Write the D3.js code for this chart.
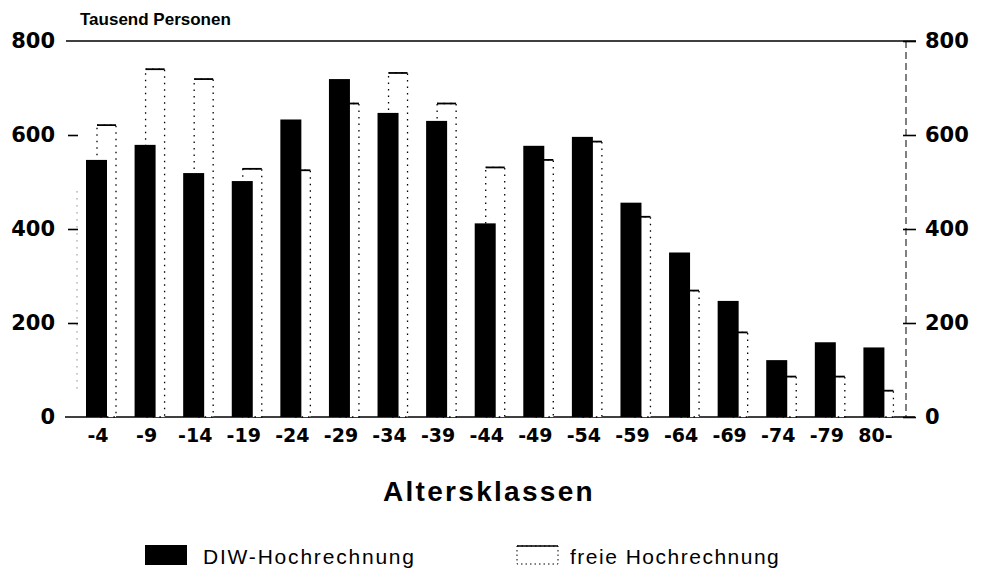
<!DOCTYPE html>
<html>
<head>
<meta charset="utf-8">
<script src="https://cdn.jsdelivr.net/npm/d3@7"></script>
<style>
  body { margin: 0; background: #fff; }
  text { font-family: "Liberation Sans", Arial, sans-serif; fill: #000; }
  .tick text { font-family: "DejaVu Sans", sans-serif; font-weight: bold; }
</style>
</head>
<body>
<svg width="987" height="579"></svg>
<script>
// Altersklassen
var classes = ["-4","-9","-14","-19","-24","-29","-34","-39","-44","-49","-54","-59","-64","-69","-74","-79","80-"];
// Tausend Personen
var diw  = [547, 579, 519, 502, 633, 719, 647, 630, 412, 577, 596, 456, 350, 247, 121, 159, 148];
var frei = [621, 740, 719, 528, 525, 667, 732, 667, 531, 547, 586, 426, 269, 180,  86,  86,  56];
var yTicks = [0, 200, 400, 600, 800];

var svg = d3.select("svg");

var x = d3.scaleBand().domain(classes).range([70, 896]).padding(0);
var y = d3.scaleLinear().domain([0, 800]).range([417, 41]);

var barW = 21;

// top frame line and baseline
svg.append("line").attr("x1", 66).attr("x2", 916).attr("y1", y(800)).attr("y2", y(800))
  .attr("stroke", "#000").attr("stroke-width", 1.5);
svg.append("line").attr("x1", 65).attr("x2", 915).attr("y1", y(0)).attr("y2", y(0))
  .attr("stroke", "#000").attr("stroke-width", 1.5);

// right axis line (broken in the print)
svg.append("line").attr("x1", 906).attr("x2", 906).attr("y1", y(800)).attr("y2", y(0))
  .attr("stroke", "#000").attr("stroke-width", 1).attr("stroke-dasharray", "7,4");
// faint left guide
svg.append("line").attr("x1", 77).attr("x2", 77).attr("y1", y(480)).attr("y2", y(60))
  .attr("stroke", "#555").attr("stroke-width", 1).attr("stroke-dasharray", "1,6");

// freie Hochrechnung (dotted outline, behind)
var g2 = svg.append("g");
classes.forEach(function(c, i) {
  var x0 = x(c) + 27, top = y(frei[i]);
  g2.append("rect").attr("x", x0).attr("y", top).attr("width", barW - 2).attr("height", y(0) - top)
    .attr("fill", "#fff").attr("stroke", "#000").attr("stroke-width", 1.3)
    .attr("stroke-dasharray", "1.5,5");
  g2.append("line").attr("x1", x0).attr("x2", x0 + barW - 2).attr("y1", top).attr("y2", top)
    .attr("stroke", "#000").attr("stroke-width", 1.8);
});

// DIW-Hochrechnung (solid black)
svg.append("g").selectAll("rect").data(diw).enter().append("rect")
  .attr("x", function(d, i) { return x(classes[i]) + 16; })
  .attr("y", function(d) { return y(d); })
  .attr("width", barW)
  .attr("height", function(d) { return y(0) - y(d); })
  .attr("fill", "#000");

// left axis
var left = svg.append("g").attr("transform", "translate(78,0)")
  .call(d3.axisLeft(y).tickValues(yTicks).tickSize(10).tickPadding(12));
left.select(".domain").remove();
left.selectAll(".tick line").attr("stroke-width", 1.6);
left.selectAll(".tick").filter(function(d) { return d === 0 || d === 800; }).select("line").remove();
left.selectAll(".tick text").style("font-size", "21px").attr("x", -23);

// right axis
var right = svg.append("g").attr("transform", "translate(903,0)")
  .call(d3.axisRight(y).tickValues(yTicks).tickSize(13).tickPadding(9));
right.select(".domain").remove();
right.selectAll(".tick line").attr("stroke-width", 1.6);
right.selectAll(".tick text").style("font-size", "21px");

// x axis labels
var bottom = svg.append("g").attr("transform", "translate(0," + y(0) + ")")
  .call(d3.axisBottom(x).tickSize(0).tickPadding(12));
bottom.select(".domain").remove();
bottom.selectAll(".tick").attr("transform", function(d) {
  return "translate(" + (x(d) + 28) + ",0)";
});
bottom.selectAll(".tick text").style("font-size", "19px");

// titles
svg.append("text").attr("x", 80).attr("y", 25).style("font-size", "17px")
  .style("font-weight", "bold").text("Tausend Personen");
svg.append("text").attr("x", 489).attr("y", 501).attr("text-anchor", "middle")
  .style("font-size", "28px").style("font-weight", "bold").style("letter-spacing", "2.3px")
  .text("Altersklassen");

// legend
svg.append("rect").attr("x", 145).attr("y", 545).attr("width", 42).attr("height", 20).attr("fill", "#000");
svg.append("text").attr("x", 203).attr("y", 564).style("font-size", "21px")
  .style("letter-spacing", "1.8px").text("DIW-Hochrechnung");
svg.append("rect").attr("x", 517).attr("y", 546).attr("width", 41).attr("height", 18)
  .attr("fill", "#fff").attr("stroke", "#000").attr("stroke-width", 1).attr("stroke-dasharray", "1.5,3");
svg.append("line").attr("x1", 517).attr("x2", 558).attr("y1", 546).attr("y2", 546)
  .attr("stroke", "#000").attr("stroke-width", 1.5);
svg.append("text").attr("x", 570).attr("y", 564).style("font-size", "21px")
  .style("letter-spacing", "1.5px").text("freie Hochrechnung");
</script>
</body>
</html>
